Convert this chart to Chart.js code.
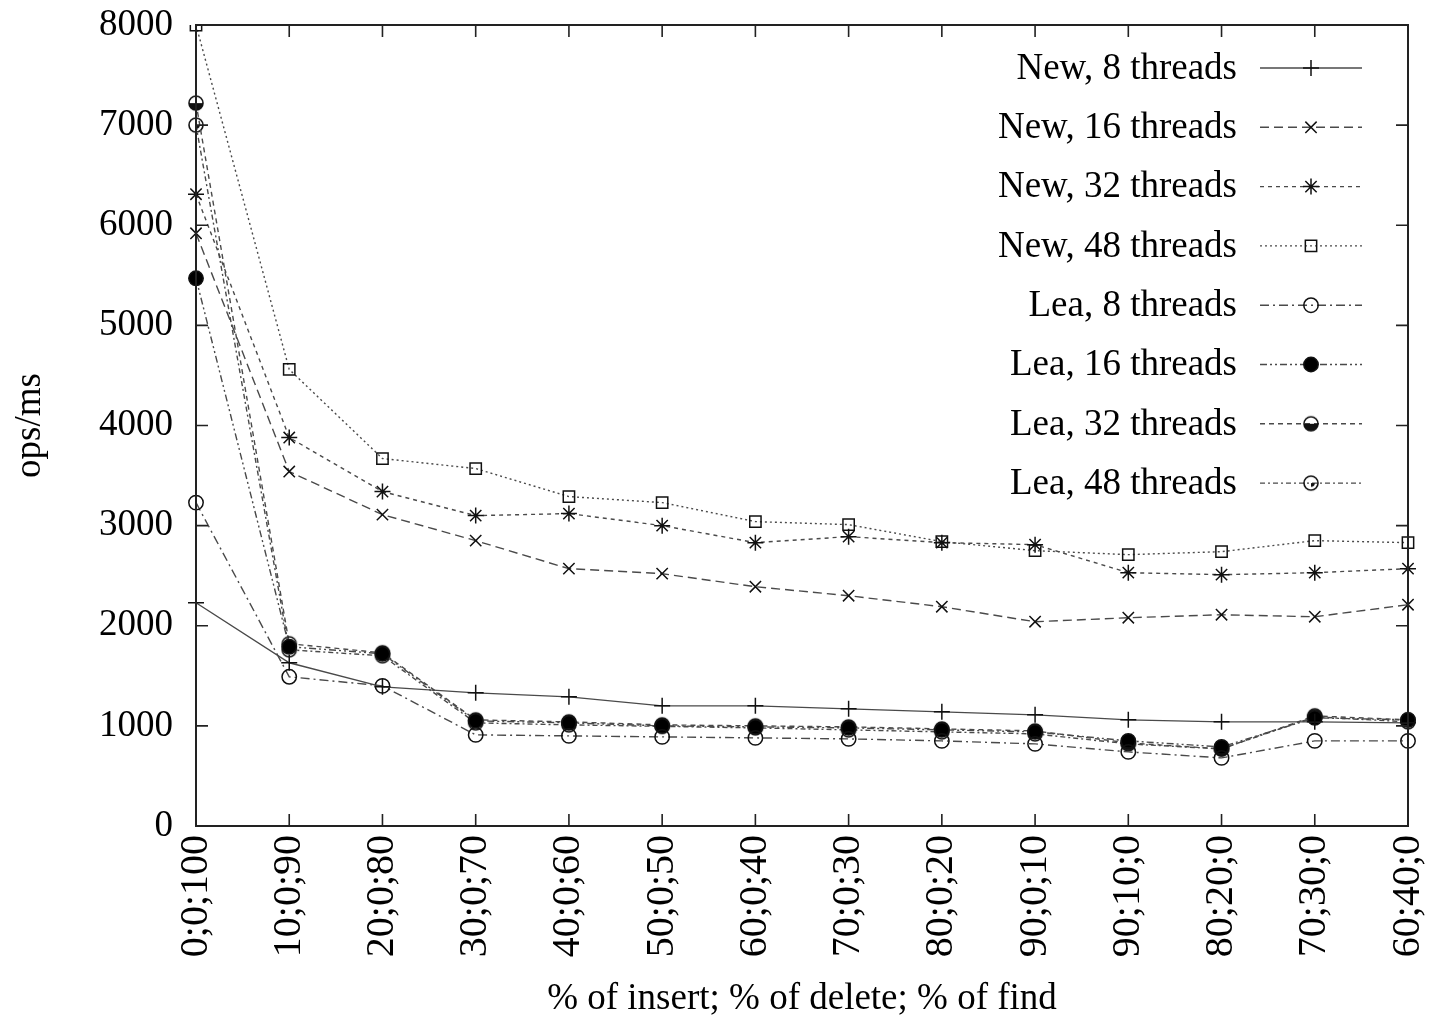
<!DOCTYPE html>
<html>
<head>
<meta charset="utf-8">
<script src="https://cdn.jsdelivr.net/npm/chart.js@4/dist/chart.umd.min.js"></script>
<style>
html,body{margin:0;padding:0;background:#fff;}
#wrap{width:1429px;height:1021px;position:relative;}
</style>
</head>
<body>
<div id="wrap"><canvas id="c" width="1429" height="1021"></canvas></div>
<script>
const categories = ["0;0;100","10;0;90","20;0;80","30;0;70","40;0;60","50;0;50","60;0;40","70;0;30","80;0;20","90;0;10","90;10;0","80;20;0","70;30;0","60;40;0"];
const yTicks = [0,1000,2000,3000,4000,5000,6000,7000,8000];
const seriesNames = ["New, 8 threads","New, 16 threads","New, 32 threads","New, 48 threads","Lea, 8 threads","Lea, 16 threads","Lea, 32 threads","Lea, 48 threads"];
const new8  = [2230,1630,1390,1330,1290,1200,1200,1170,1140,1110,1060,1040,1040,1030];
const new16 = [5920,3540,3110,2850,2570,2520,2390,2300,2190,2040,2080,2110,2090,2210];
const new32 = [6310,3880,3340,3100,3120,3000,2830,2890,2830,2810,2530,2510,2530,2570];
const new48 = [8000,4560,3670,3570,3290,3230,3040,3010,2840,2750,2710,2740,2850,2830];
const lea8  = [3230,1490,1400,910,900,890,880,870,850,820,740,680,850,850];
const lea16 = [5470,1790,1720,1050,1030,1000,990,980,960,940,850,790,1080,1060];
const lea32 = [7220,1820,1730,1060,1040,1010,1000,990,970,950,830,770,1100,1060];
const lea48 = [7000,1760,1700,1030,1010,995,980,960,940,920,820,770,1090,1040];

function markCanvas(kind){
  const c=document.createElement('canvas'); c.width=18; c.height=18;
  const g=c.getContext('2d'); g.strokeStyle='#111'; g.fillStyle='#111'; g.lineWidth=1.6;
  g.beginPath(); g.arc(9,9,7,0,Math.PI*2); g.stroke();
  g.beginPath(); g.moveTo(9,9);
  if(kind==='half'){ g.arc(9,9,7,0,Math.PI); }
  else { g.arc(9,9,3.8,0,Math.PI/2); }
  g.closePath(); g.fill();
  return c;
}
const halfMark = markCanvas('half');
const smallMark = markCanvas('small');

const lineCol = '#4a4a4a';
const ptCol = '#111';
function ds(i,data,dash,style,radius,fill){
  return {label:seriesNames[i],data:data,borderColor:lineCol,borderWidth:1.4,borderDash:dash,
    pointStyle:style,pointRadius:radius,pointHoverRadius:radius,pointBorderColor:ptCol,
    pointBackgroundColor:fill||'rgba(0,0,0,0)',pointBorderWidth:1.5,tension:0,fill:false};
}
const datasets=[
  ds(0,new8,[],'cross',8),
  ds(1,new16,[9,5],'crossRot',8),
  ds(2,new32,[4,4],'star',8),
  ds(3,new48,[2,3],'rect',8),
  ds(4,lea8,[9,4,2,4],'circle',7.2),
  ds(5,lea16,[7,3,2,3,2,3],'circle',7.2,'#000'),
  ds(6,lea32,[5,4],halfMark,7),
  ds(7,lea48,[5,3,2,3],smallMark,7)
];

const FONT='"Liberation Serif","Times New Roman",serif';
const FS=37;

const framePlugin={
  id:'frame',
  afterDatasetsDraw(chart){
    const {ctx,chartArea:a,scales}=chart;
    ctx.save();
    ctx.strokeStyle='#222'; ctx.lineWidth=2; ctx.setLineDash([]);
    ctx.strokeRect(a.left,a.top,a.right-a.left,a.bottom-a.top);
    ctx.lineWidth=1.6;
    const L=12;
    scales.y.ticks.forEach(t=>{
      const y=scales.y.getPixelForValue(t.value);
      ctx.beginPath(); ctx.moveTo(a.left,y); ctx.lineTo(a.left+L,y);
      ctx.moveTo(a.right,y); ctx.lineTo(a.right-L,y); ctx.stroke();
    });
    scales.x.ticks.forEach((t,i)=>{
      const x=scales.x.getPixelForTick(i);
      ctx.beginPath(); ctx.moveTo(x,a.bottom); ctx.lineTo(x,a.bottom-L);
      ctx.moveTo(x,a.top); ctx.lineTo(x,a.top+L); ctx.stroke();
    });
    // legend
    const rowY0=68, rowH=59.3, textX=1237, x0=1260, x1=1362;
    chart.data.datasets.forEach((d,i)=>{
      const y=rowY0+i*rowH;
      ctx.fillStyle='#000'; ctx.font=FS+'px '+FONT; ctx.textAlign='right'; ctx.textBaseline='middle';
      ctx.fillText(d.label,textX,y+1);
      ctx.strokeStyle=d.borderColor; ctx.lineWidth=d.borderWidth; ctx.setLineDash(d.borderDash);
      ctx.beginPath(); ctx.moveTo(x0,y); ctx.lineTo(x1,y); ctx.stroke();
      ctx.setLineDash([]);
      ctx.strokeStyle=d.pointBorderColor; ctx.fillStyle=d.pointBackgroundColor; ctx.lineWidth=d.pointBorderWidth;
      Chart.helpers.drawPoint(ctx,{pointStyle:d.pointStyle,radius:d.pointRadius,borderWidth:d.pointBorderWidth,rotation:0},(x0+x1)/2,y);
    });
    ctx.restore();
  }
};

function zeroPad(s){s.paddingLeft=0;s.paddingRight=0;s.paddingTop=0;s.paddingBottom=0;}

new Chart(document.getElementById('c'),{
  type:'line',
  data:{labels:categories,datasets:datasets},
  plugins:[framePlugin],
  options:{
    responsive:false,animation:false,
    layout:{autoPadding:false,padding:{left:0,right:21,top:25,bottom:0}},
    plugins:{legend:{display:false},tooltip:{enabled:false}},
    scales:{
      x:{type:'category',offset:false,
        grid:{display:false,drawTicks:false},border:{display:false},
        ticks:{color:'#000',font:{family:FONT,size:40},minRotation:90,maxRotation:90,padding:9,autoSkip:false},
        title:{display:true,text:'% of insert; % of delete; % of find',color:'#000',font:{family:FONT,size:FS},padding:{top:0,bottom:0}},
        afterFit(s){s.height=195;zeroPad(s);}
      },
      y:{min:0,max:8000,
        afterBuildTicks(s){s.ticks=yTicks.map(v=>({value:v}));},
        grid:{display:false,drawTicks:false},border:{display:false},
        ticks:{color:'#000',font:{family:FONT,size:FS},padding:23,callback:v=>String(v)},
        title:{display:true,text:'ops/ms',color:'#000',font:{family:FONT,size:FS},padding:{top:8,bottom:0}},
        afterFit(s){s.width=196;zeroPad(s);}
      }
    }
  }
});
</script>
</body>
</html>
